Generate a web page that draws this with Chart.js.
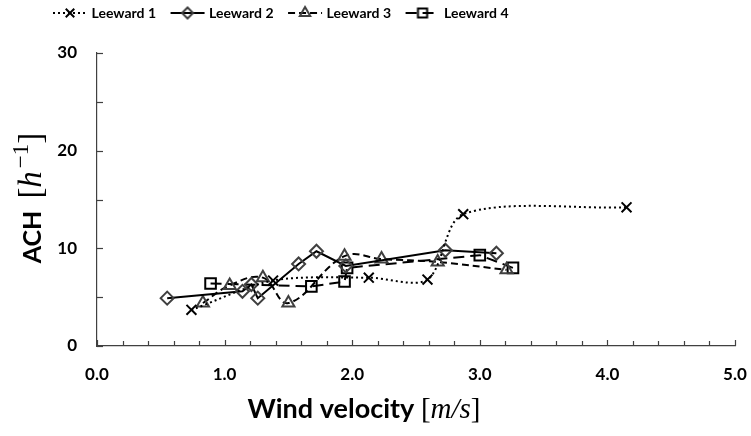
<!DOCTYPE html>
<html><head><meta charset="utf-8">
<script src="https://cdn.jsdelivr.net/npm/chart.js@4/dist/chart.umd.min.js"></script>
<style>html,body{margin:0;padding:0;background:#fff}#wrap{width:751px;height:436px;position:relative}</style>
</head><body><div id="wrap"><canvas id="c"></canvas></div>
<script>
// ---- data ----
const seriesNames = ['Leeward 1', 'Leeward 2', 'Leeward 3', 'Leeward 4'];
const l1x = [0.74, 1.38, 2.13, 2.59, 2.87, 4.15];
const l1y = [3.7, 6.7, 7.0, 6.8, 13.5, 14.2];
const l2x = [0.55, 1.14, 1.21, 1.26, 1.58, 1.72, 1.95, 2.73, 3.13];
const l2y = [4.9, 5.6, 6.3, 4.9, 8.4, 9.7, 8.2, 9.8, 9.5];
const l3x = [0.83, 1.04, 1.30, 1.50, 1.94, 2.23, 2.67, 3.21];
const l3y = [4.4, 6.2, 7.0, 4.4, 9.2, 8.9, 8.6, 7.8];
const l4x = [0.89, 1.68, 1.94, 1.96, 3.00, 3.26];
const l4y = [6.4, 6.1, 6.6, 8.0, 9.3, 8.0];
const xTickLabels = ['0.0', '1.0', '2.0', '3.0', '4.0', '5.0'];
const yTickLabels = ['0', '10', '20', '30'];
const xTitle = ['Wind velocity ', '[', 'm/s', ']'];
const yTitle = ['ACH ', '[', 'h', '\u22121', ']'];

function pts(xs, ys) { return xs.map((x, i) => ({ x: x, y: ys[i] })); }

const styles = [
  { dash: [2, 3], tension: 0.3, point: 'crossRot', r: 7, pc: '#000', line: '#000' },
  { dash: [], tension: 0, point: 'rectRot', r: 6.5, pc: '#404040', line: '#000' },
  { dash: [7, 4], tension: 0.4, point: 'triangle', r: 7, pc: '#404040', line: '#000' },
  { dash: [11, 6], tension: 0, point: 'rect', r: 7.5, pc: '#000', line: '#000' }
];
const allData = [pts(l1x, l1y), pts(l2x, l2y), pts(l3x, l3y), pts(l4x, l4y)];

function legendIcon(s) {
  const c = document.createElement('canvas');
  c.width = 36; c.height = 16;
  const g = c.getContext('2d');
  g.strokeStyle = s.line; g.lineWidth = 2; g.setLineDash(s.dash);
  g.beginPath(); g.moveTo(1, 8); g.lineTo(35, 8); g.stroke();
  g.setLineDash([]);
  g.strokeStyle = s.pc; g.fillStyle = 'rgba(0,0,0,0)'; g.lineWidth = 2;
  Chart.helpers.drawPoint(g, { pointStyle: s.point, radius: s.r - 1, borderWidth: 2, rotation: 0 }, 18, 8);
  return c;
}

const FONT = 'Lato';
const LEG_PAD = 17, LEG_SIZE = 14, LEG_BOX = 29;
const legendPlace = {
  id: 'legendPlace',
  afterLayout(chart) {
    const l = chart.legend;
    if (!l) return;
    const w = l.right - l.left;
    l.left = 55.5 - LEG_PAD; l.right = l.left + w;
    l.top = 13 - LEG_SIZE / 2 - LEG_PAD;
  }
};
const axisPlugin = {
  id: 'axisDecor',
  afterDraw(chart) {
    const ctx = chart.ctx, xs = chart.scales.x, ys = chart.scales.y;
    const a = chart.chartArea;
    ctx.save();
    ctx.strokeStyle = '#404040'; ctx.lineWidth = 1.2;
    for (let i = 0; i <= 25; i++) {
      const px = Math.round(xs.getPixelForValue(i * 0.2)) + 0.5;
      const len = (i % 5 === 0) ? 6 : 5;
      ctx.beginPath(); ctx.moveTo(px, a.bottom); ctx.lineTo(px, a.bottom - len); ctx.stroke();
    }
    for (let i = 0; i <= 6; i++) {
      const py = Math.round(ys.getPixelForValue(i * 5)) + 0.5;
      ctx.beginPath(); ctx.moveTo(a.left, py); ctx.lineTo(a.left + 6, py); ctx.stroke();
    }
    ctx.fillStyle = '#000'; ctx.textBaseline = 'alphabetic';
    const f1 = 'bold 27px ' + FONT, fm = '29px "Liberation Serif"', fi = 'italic 29px "Liberation Serif"';
    const parts = [[xTitle[0], f1], [xTitle[1], fm], [xTitle[2], fi], [xTitle[3], fm]];
    let w = 0; parts.forEach(p => { ctx.font = p[1]; w += ctx.measureText(p[0]).width; });
    let x0 = 364 - w / 2;
    parts.forEach(p => { ctx.font = p[1]; ctx.fillText(p[0], x0, 418); x0 += ctx.measureText(p[0]).width; });
    // y title (rotated)
    const g1 = 'bold 25px ' + FONT, gm = '33px "Liberation Serif"', gi = 'italic 33px "Liberation Serif"';
    ctx.translate(41, 198);
    ctx.rotate(-Math.PI / 2);
    const yp = [[yTitle[0], g1, 0, 6], [yTitle[1], gm, 0, 0], [yTitle[2], gi, 0, 3], [yTitle[3], '23px "Liberation Serif"', -13, 0], [yTitle[4], gm, 0, 0]];
    w = 0; yp.forEach(p => { ctx.font = p[1]; w += ctx.measureText(p[0]).width + p[3]; });
    x0 = -w / 2;
    yp.forEach(p => { ctx.font = p[1]; ctx.fillText(p[0], x0, p[2]); x0 += ctx.measureText(p[0]).width + p[3]; });
    ctx.restore();
  }
};

new Chart(document.getElementById('c'), {
  type: 'scatter',
  data: {
    datasets: allData.map((d, i) => ({
      label: seriesNames[i],
      data: d,
      showLine: true,
      borderColor: styles[i].line,
      borderWidth: 2,
      borderDash: styles[i].dash,
      tension: styles[i].tension,
      pointStyle: styles[i].point,
      pointRadius: styles[i].r,
      pointHoverRadius: styles[i].r,
      pointBorderColor: styles[i].pc,
      pointBackgroundColor: 'rgba(0,0,0,0)',
      pointBorderWidth: 2,
      fill: false
    }))
  },
  options: {
    responsive: true, maintainAspectRatio: false, animation: false,
    layout: { padding: { top: 12, right: 16, left: 0, bottom: 0 } },
    plugins: {
      tooltip: { enabled: false },
      legend: {
        position: 'top', align: 'start',
        labels: {
          usePointStyle: true, pointStyleWidth: LEG_BOX, padding: LEG_PAD,
          color: '#000', font: { family: FONT, weight: 'bold', size: LEG_SIZE },
          generateLabels(chart) {
            return chart.data.datasets.map((ds, i) => ({
              text: ds.label, pointStyle: legendIcon(styles[i]), datasetIndex: i,
              fillStyle: 'transparent', strokeStyle: 'transparent', lineWidth: 0, fontColor: '#000'
            }));
          }
        }
      }
    },
    scales: {
      x: {
        type: 'linear', min: 0, max: 5,
        afterBuildTicks(s) { s.ticks = xTickLabels.map(t => ({ value: parseFloat(t) })); },
        ticks: { callback: (v) => xTickLabels[Math.round(v)], color: '#000', padding: 18, maxRotation: 0,
          font: { family: FONT, weight: 'bold', size: 17 } },
        grid: { display: false, drawTicks: false },
        border: { display: true, color: '#404040', width: 1.2 },
        afterFit(s) { s.height = 90; s.paddingRight = 0; s.paddingLeft = 0; }
      },
      y: {
        type: 'linear', min: 0, max: 30,
        afterBuildTicks(s) { s.ticks = yTickLabels.map(t => ({ value: parseFloat(t) })); },
        ticks: { callback: (v) => String(v), color: '#000', padding: 20,
          font: { family: FONT, weight: 'bold', size: 17 } },
        grid: { display: false, drawTicks: false },
        border: { display: true, color: '#404040', width: 1.2 },
        afterFit(s) { s.width = 97; s.paddingTop = 0; s.paddingBottom = 0; }
      }
    }
  },
  plugins: [legendPlace, axisPlugin]
});
</script>
</body></html>
